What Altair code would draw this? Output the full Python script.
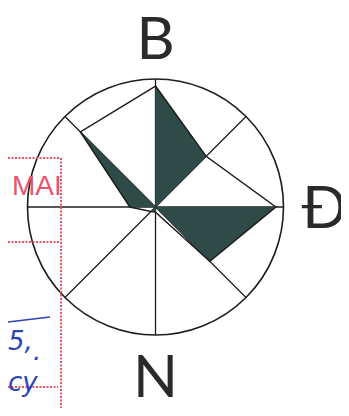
import math
import altair as alt
import pandas as pd

# ---------------- data ----------------
directions = ["B", "ĐB", "Đ", "ĐN", "N", "TN", "T", "TB"]
bearings = [0, 45, 90, 135, 180, 225, 270, 315]
rose_values = [0.945, 0.56, 0.94, 0.60, 0.04, 0.05, 0.20, 0.83]   # fraction of circle radius
shaded_pairs = [["B", "ĐB"], ["Đ", "ĐN"], ["N", "TN"], ["T", "TB"]]
compass_labels = ["B", "Đ", "N"]
compass_bearings = [0, 90, 180]
stamp_text = ["MAI"]
handwriting = ["5,", ".", "cy"]

# ---------------- layout / style ----------------
W, H = 333, 400
CX, CY = 147.5, 199.0
R_PX = 128.0
LABEL_DIST = 1.32
INK = "#1e1e1e"
SHADE = "#2f4b48"
RED = "#e8536c"
BLUE = "#2b45b5"


def pol(b, r):
    a = math.radians(b)
    return round(r * math.sin(a), 9), round(r * math.cos(a), 9)


xs = alt.Scale(domain=[-CX / R_PX, (W - CX) / R_PX], nice=False, zero=False)
ys = alt.Scale(domain=[-(H - CY) / R_PX, CY / R_PX], nice=False, zero=False)


def X(f):
    return alt.X(f, type="quantitative", scale=xs, axis=None)


def Y(f):
    return alt.Y(f, type="quantitative", scale=ys, axis=None, stack=None)


# spokes
spk = []
for d, b in zip(directions, bearings):
    x2, y2 = pol(b, 1.0)
    spk.append({"dir": d, "x": 0.0, "y": 0.0, "x2": x2, "y2": y2})
spokes_df = pd.DataFrame(spk)

# rose outline
pts = {d: pol(b, v) for d, b, v in zip(directions, bearings, rose_values)}
outline = []
for k, d in enumerate(directions + [directions[0]]):
    outline.append({"k": k, "x": pts[d][0], "y": pts[d][1]})
outline_df = pd.DataFrame(outline)

# shaded triangles (center + two rose vertices)
tri_layers = []
poly_rows = []
for t, (a, b) in enumerate(shaded_pairs):
    verts = sorted([(0.0, 0.0), pts[a], pts[b]], key=lambda p: p[0])
    (x0, y0), (x1, y1), (x2, y2) = verts
    ylong = y0 + (y2 - y0) * (x1 - x0) / (x2 - x0)
    rows = [
        (x0, y0, y0 if x1 > x0 else y1),
        (x1, y1, ylong),
        (x2, y2, y2 if x2 > x1 else y1),
    ]
    df = pd.DataFrame([{"k": k, "x": x, "y": y, "y2": yy} for k, (x, y, yy) in enumerate(rows)])
    tri_layers.append(
        alt.Chart(df).mark_area(fill=SHADE, color=SHADE, opacity=1, fillOpacity=1, orient="vertical").encode(
            x=X("x"), y=Y("y"), y2="y2:Q"
        )
    )
    for k, p in enumerate([(0.0, 0.0), pts[a], pts[b], (0.0, 0.0)]):
        poly_rows.append({"tri": t, "k": k, "x": p[0], "y": p[1]})
poly_df = pd.DataFrame(poly_rows)

poly = alt.Chart(poly_df).mark_line(filled=True, fill=SHADE, color=SHADE, strokeWidth=0.5).encode(
    x=X("x"), y=Y("y"), order="k:Q", detail="tri:N"
)

circle_df = pd.DataFrame([{"x": 0.0, "y": 0.0}])

lab = []
for t, b in zip(compass_labels, compass_bearings):
    x, y = pol(b, LABEL_DIST)
    lab.append({"t": t, "x": x, "y": y})
labels_df = pd.DataFrame(lab)

# ---------------- layers ----------------
spokes = alt.Chart(spokes_df).mark_rule(color=INK, strokeWidth=1.3).encode(
    x=X("x"), y=Y("y"), x2="x2:Q", y2="y2:Q"
)

rose = alt.Chart(outline_df).mark_line(color=INK, strokeWidth=1.5).encode(
    x=X("x"), y=Y("y"), order="k:Q"
)

circle = alt.Chart(circle_df).mark_point(
    shape="circle", filled=False, size=(2 * R_PX) ** 2, stroke=INK, strokeWidth=1.6, opacity=1
).encode(x=X("x"), y=Y("y"))

labels = alt.Chart(labels_df).mark_text(
    font="Lato", fontWeight=400, fontSize=59, color="#2a2a2a", baseline="alphabetic", align="center", dy=21
).encode(x=X("x"), y=Y("y"), text="t:N")

# scan artifacts (pixel positions)
deco_lines = pd.DataFrame([
    {"px": 0, "py": 150, "px2": 52, "py2": 150},
    {"px": 0, "py": 234, "px2": 52, "py2": 234},
    {"px": 53, "py": 150, "px2": 53, "py2": 408},
    {"px": 0, "py": 379, "px2": 50, "py2": 379},
])
red_lines = alt.Chart(deco_lines).mark_rule(color=RED, strokeWidth=2, strokeDash=[2, 1.5]).encode(
    x=alt.X("px:Q", scale=None), y=alt.Y("py:Q", scale=None), x2="px2:Q", y2="py2:Q"
)
blue_stroke = alt.Chart(pd.DataFrame([{"px": 0, "py": 314, "px2": 42, "py2": 309}])).mark_rule(
    color=BLUE, strokeWidth=1.5
).encode(x=alt.X("px:Q", scale=None), y=alt.Y("py:Q", scale=None), x2="px2:Q", y2="py2:Q")

stamp = alt.Chart(pd.DataFrame({"t": stamp_text})).mark_text(
    font="Liberation Sans", fontSize=28, color=RED, align="left", baseline="alphabetic"
).encode(x=alt.value(4), y=alt.value(187), text="t:N")

hw_df = pd.DataFrame({"t": handwriting, "px": [0, 25, 0], "py": [342, 352, 383]})
hand = alt.Chart(hw_df).mark_text(
    font="DejaVu Sans", fontStyle="italic", fontSize=26, color=BLUE, align="left", baseline="alphabetic"
).encode(x=alt.X("px:Q", scale=None), y=alt.Y("py:Q", scale=None), text="t:N")

chart = alt.layer(
    spokes, circle, *tri_layers, poly, rose, labels, red_lines, blue_stroke, stamp, hand
).properties(
    width=W, height=H, autosize=alt.AutoSizeParams(type="none"), padding=0, background="white"
).configure_view(stroke=None)

chart.save("out.html", embed_options={"renderer": "svg", "actions": False})
